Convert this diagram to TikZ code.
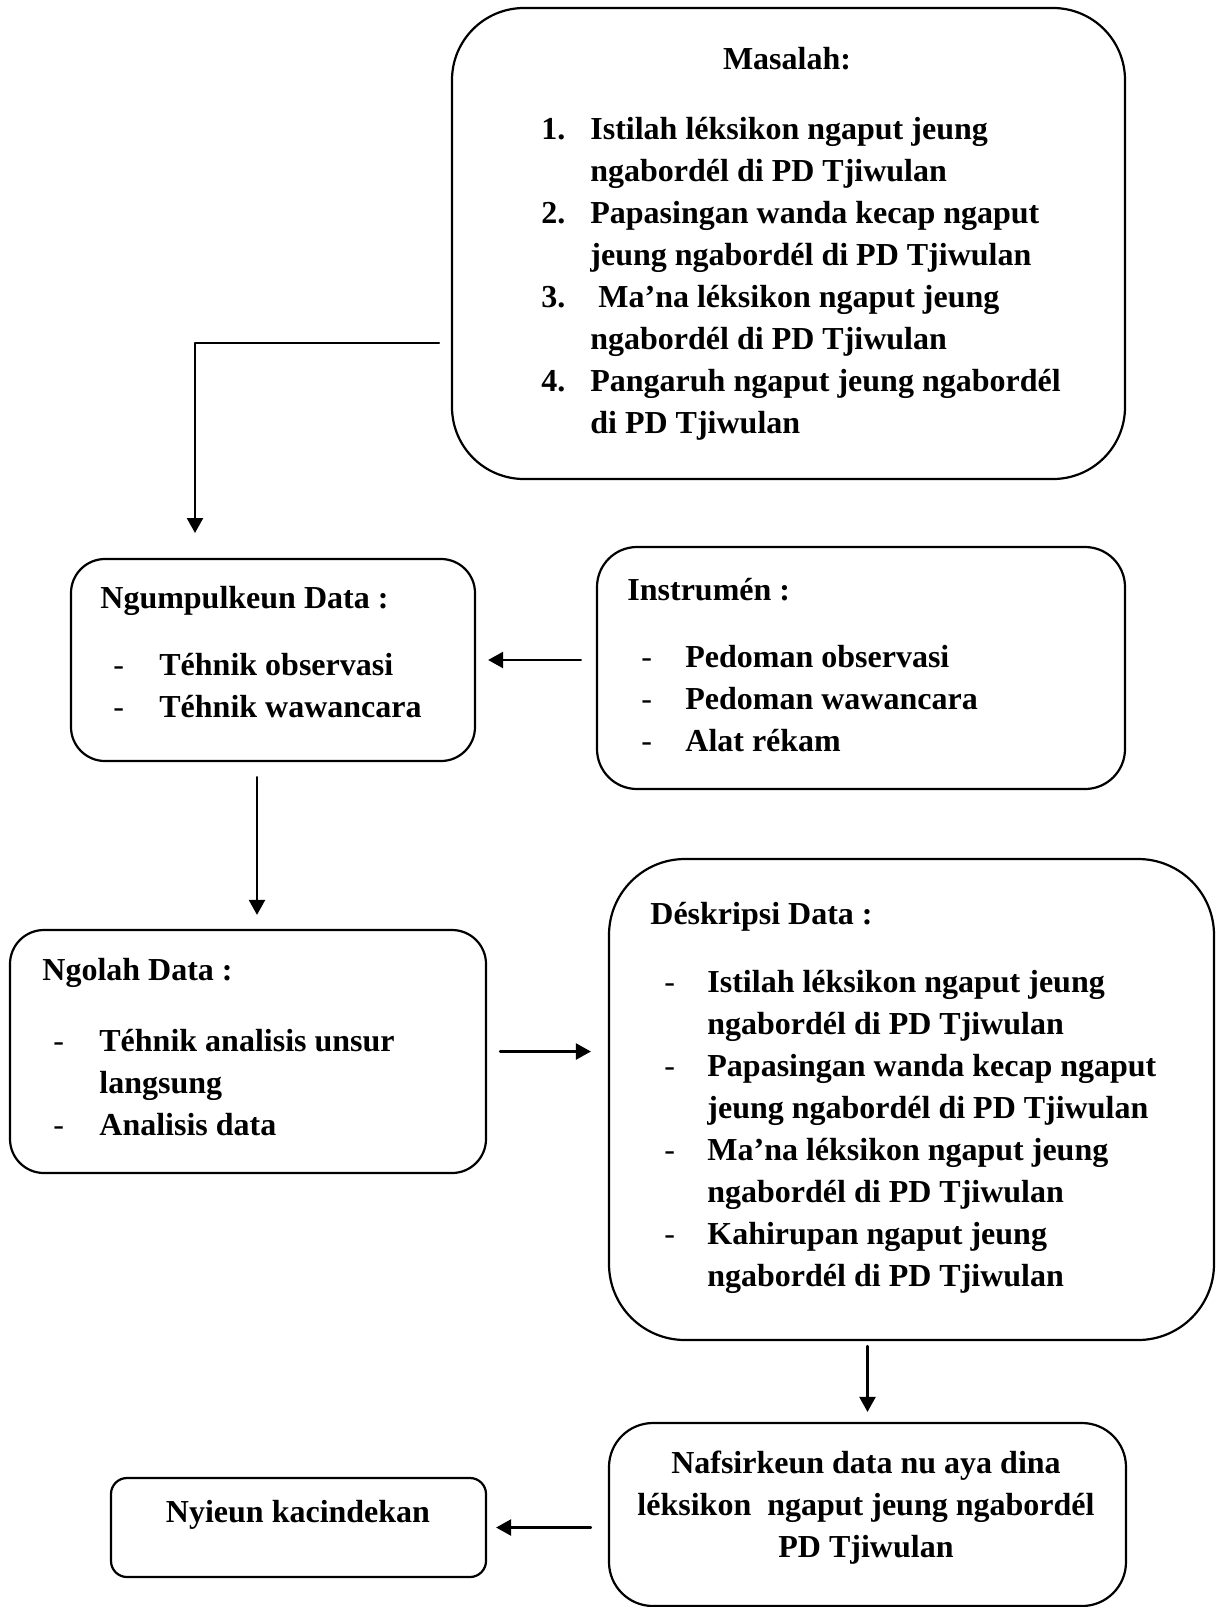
\documentclass[tikz,border=0pt]{standalone}
\usepackage{fontspec}
\setmainfont{Liberation Serif}
\usetikzlibrary{arrows.meta}

\tikzset{
  box/.style={draw, line width=1.1pt, rounded corners=#1, inner sep=0pt},
  box/.default=10pt,
  lbl/.style={anchor=base west, inner sep=0pt, font=\bfseries\fontsize{16}{21}\selectfont},
  conn/.style={->, line width=1.2pt},
}
\newcommand{\dsh}{\textnormal{-}}

\begin{document}
\begin{tikzpicture}[line cap=round,line join=round,>={Triangle[length=7.5pt,width=8pt]},x=0.5pt,y=-0.5pt]
\useasboundingbox (0,0) rectangle (1217,1607);
% boxes
\node[box=36pt, minimum width=336.5pt, minimum height=235.5pt] (masalah) at (788.5,243.5) {};
\node[box=20pt, minimum width=264pt, minimum height=121pt] (instrumen) at (861,668) {};
\node[box=17pt, minimum width=202pt, minimum height=101pt] (ngumpul) at (273,660) {};
\node[box=17pt, minimum width=238pt, minimum height=121.5pt] (ngolah) at (248,1051.5) {};
\node[box=38pt, minimum width=302.5pt, minimum height=240.5pt] (deskripsi) at (911.5,1099.5) {};
\node[box=22pt, minimum width=258.5pt, minimum height=91.5pt] (nafsir) at (867.5,1514.5) {};
\node[box=8pt, minimum width=187.5pt, minimum height=49.5pt] (nyieun) at (298.5,1527.5) {};
% texts
\node[lbl, anchor=base] (masalahhead) at (787,69) {Masalah:};
\node[lbl] (masalahlist) at (541,139) {\begin{tabular}[t]{@{}p{24.5pt}@{}l@{}}
1.&Istilah léksikon ngaput jeung\\
  &ngabordél di PD Tjiwulan\\
2.&Papasingan wanda kecap ngaput\\
  &jeung ngabordél di PD Tjiwulan\\
3.&\hspace{4pt}Ma’na léksikon ngaput jeung\\
  &ngabordél di PD Tjiwulan\\
4.&Pangaruh ngaput jeung ngabordél\\
  &di PD Tjiwulan
\end{tabular}};
\node[lbl] (ngumpulhead) at (100,608) {Ngumpulkeun Data :};
\node[lbl] (ngumpullist) at (113,675) {\begin{tabular}[t]{@{}p{23pt}@{}l@{}}
\dsh&Téhnik observasi\\
\dsh&Téhnik wawancara
\end{tabular}};
\node[lbl] (instrumenhead) at (627,600) {Instrumén :};
\node[lbl] (instrumenlist) at (641,667) {\begin{tabular}[t]{@{}p{22pt}@{}l@{}}
\dsh&Pedoman observasi\\
\dsh&Pedoman wawancara\\
\dsh&Alat rékam
\end{tabular}};
\node[lbl] (ngolahhead) at (42,980) {Ngolah Data :};
\node[lbl] (ngolahlist) at (53,1051) {\begin{tabular}[t]{@{}p{23pt}@{}l@{}}
\dsh&Téhnik analisis unsur\\
    &langsung\\
\dsh&Analisis data
\end{tabular}};
\node[lbl] (deskripsihead) at (650,924) {Déskripsi Data :};
\node[lbl] (deskripsilist) at (664,992) {\begin{tabular}[t]{@{}p{21.5pt}@{}l@{}}
\dsh&Istilah léksikon ngaput jeung\\
    &ngabordél di PD Tjiwulan\\
\dsh&Papasingan wanda kecap ngaput\\
    &jeung ngabordél di PD Tjiwulan\\
\dsh&Ma’na léksikon ngaput jeung\\
    &ngabordél di PD Tjiwulan\\
\dsh&Kahirupan ngaput jeung\\
    &ngabordél di PD Tjiwulan
\end{tabular}};
\node[lbl, anchor=base] (nafsirtext) at (866,1473) {\begin{tabular}[t]{@{}c@{}}
Nafsirkeun data nu aya dina\\
léksikon\ \ ngaput jeung ngabordél\\
PD Tjiwulan
\end{tabular}};
\node[lbl, anchor=base] (nyieuntext) at (298,1522) {Nyieun kacindekan};
% connectors
\coordinate (m1) at (439,343);
\coordinate (m2) at (195,533);
\draw[conn] (m1) -| (m2);
\draw[conn, shorten <=7.5pt, shorten >=6pt] (instrumen.west |- ngumpul.east) -- (ngumpul.east);
\draw[conn, shorten <=7.5pt, shorten >=7pt] ([xshift=-8pt]ngumpul.south) -- ([xshift=-8pt]ngumpul.south |- ngolah.north);
\draw[conn, shorten <=6.5pt, shorten >=8.5pt] (ngolah.east) -- (ngolah.east -| deskripsi.west);
\draw[conn, shorten <=2.5pt, shorten >=5pt] (nafsir.north |- deskripsi.south) -- (nafsir.north);
\draw[conn, shorten <=8.5pt, shorten >=4.5pt] (nafsir.west |- nyieun.east) -- (nyieun.east);
\end{tikzpicture}
\end{document}
